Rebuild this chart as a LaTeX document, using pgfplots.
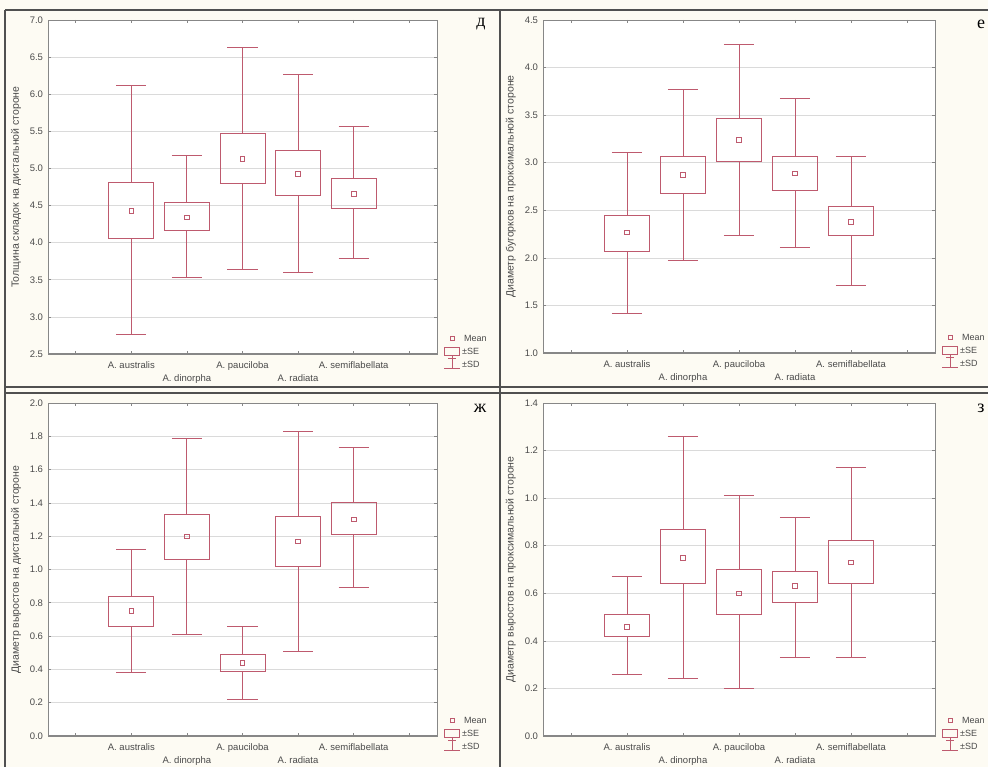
\documentclass[border=0pt]{standalone}
\usepackage{fontspec}
\setmainfont{Liberation Sans}
\newfontfamily\serifcyr{Liberation Serif}
\usepackage{pgfplots}
\pgfplotsset{compat=1.18}
\usepgfplotslibrary{statistics}
\definecolor{boxc}{RGB}{190,90,110}
\definecolor{bgc}{RGB}{253,251,243}
\definecolor{framec}{RGB}{80,80,80}
\definecolor{axc}{RGB}{135,135,135}
\definecolor{gridc}{RGB}{218,218,218}
\definecolor{txtc}{RGB}{75,75,75}

\pgfplotsset{
 panel/.style={
  scale only axis, anchor=south west, clip=false,
  xmin=-0.5, xmax=6.5, xtick={0,...,6},
  xticklabels={{},{A. australis},{\strut\\A. dinorpha},{A. pauciloba},{\strut\\A. radiata},{A. semiflabellata},{}},
  xticklabel style={align=center, font=\fontsize{9.5}{12}\selectfont, text=txtc, yshift=-4pt},
  yticklabel style={font=\fontsize{9.5}{10}\selectfont, text=txtc, xshift=-1.5pt,
     /pgf/number format/.cd, fixed, fixed zerofill, precision=1},
  /pgf/number format/assume math mode=true,
  ymajorgrids, grid style={gridc, line width=0.6pt},
  axis line style={axc, line width=0.8pt},
  tick style={axc, line width=0.6pt},
  major tick length=3pt,
  axis background/.style={fill=white},
  ylabel style={font=\fontsize{10.5}{12}\selectfont, text=txtc, anchor=center},
  boxplot/draw direction=y,
 },
 meanstyle/.style={boxc, only marks, mark=square, mark size=2.3pt, mark options={solid, line width=0.7pt}},
}
\newcommand\bx[5]{\addplot[boxc, line width=0.9pt, solid, boxplot prepared={draw position=#1, lower whisker=#2, lower quartile=#3, median=#3, upper quartile=#4, upper whisker=#5, box extend=0.81, whisker extend=0.54}] coordinates {};}
\newcommand\botline{\draw[axc, line width=1.6pt] (rel axis cs:0,0) -- (rel axis cs:1,0);}
\newcommand\leg[2]{%
\begin{scope}[shift={(#1pt,#2pt)}]
\draw[boxc, line width=0.7pt] (13pt,14pt) rectangle (17pt,18pt);
\node[anchor=west, font=\fontsize{9}{10}\selectfont, text=txtc, inner sep=0pt] at (27pt,16pt) {Mean};
\draw[boxc, line width=0.7pt] (7pt,-1pt) rectangle (22pt,7pt);
\node[anchor=west, font=\fontsize{9}{10}\selectfont, text=txtc, inner sep=0pt] at (25pt,3pt) {±SE};
\draw[boxc, line width=0.7pt] (15pt,-2pt) -- (15pt,-14pt) (7pt,-14pt) -- (23pt,-14pt) (11pt,-4pt) -- (19pt,-4pt);
\node[anchor=west, font=\fontsize{9}{10}\selectfont, text=txtc, inner sep=0pt] at (25pt,-10pt) {±SD};
\end{scope}}

\begin{document}
\begin{tikzpicture}
\useasboundingbox (0pt,0pt) rectangle (988pt,767pt);
\clip (0pt,0pt) rectangle (988pt,767pt);
\fill[bgc] (0pt,0pt) rectangle (988pt,767pt);
\draw[framec, line width=1.3pt] (5pt,757pt) -- (990pt,757pt);
\draw[framec, line width=1.3pt] (5pt,-2pt) -- (5pt,757pt);
\draw[framec, line width=1.3pt] (500pt,-2pt) -- (500pt,757pt);
\draw[framec, line width=1.3pt] (5pt,380pt) -- (990pt,380pt);
\draw[framec, line width=1.3pt] (5pt,374pt) -- (990pt,374pt);

% panel д
\begin{axis}[panel, at={(48pt,413pt)}, width=389pt, height=334pt,
  ymin=2.5, ymax=7, ytick distance=0.5,
  ylabel={Толщина складок на дистальной стороне},
  ylabel style={at={(axis description cs:-0.082,0.5)}}]
\bx{1}{2.76}{4.05}{4.81}{6.12}
\bx{2}{3.53}{4.16}{4.54}{5.18}
\bx{3}{3.64}{4.80}{5.47}{6.63}
\bx{4}{3.60}{4.63}{5.24}{6.27}
\bx{5}{3.79}{4.46}{4.86}{5.56}
\addplot[meanstyle] coordinates {(1,4.43) (2,4.34) (3,5.13) (4,4.93) (5,4.66)};
\botline
\end{axis}
\leg{437}{413}
\node[font=\serifcyr\fontsize{18}{18}\selectfont] at (481pt,743pt) {д};

% panel е
\begin{axis}[panel, at={(543pt,414pt)}, width=392pt, height=333pt,
  ymin=1, ymax=4.5, ytick distance=0.5,
  ylabel={Диаметр бугорков на проксимальной стороне},
  ylabel style={at={(axis description cs:-0.082,0.5)}}]
\bx{1}{1.42}{2.07}{2.45}{3.11}
\bx{2}{1.97}{2.68}{3.07}{3.77}
\bx{3}{2.24}{3.01}{3.47}{4.24}
\bx{4}{2.11}{2.71}{3.07}{3.68}
\bx{5}{1.71}{2.24}{2.54}{3.07}
\addplot[meanstyle] coordinates {(1,2.27) (2,2.87) (3,3.24) (4,2.89) (5,2.38)};
\botline
\end{axis}
\leg{935}{414}
\node[font=\serifcyr\fontsize{18}{18}\selectfont] at (981pt,743pt) {е};

% panel ж
\begin{axis}[panel, at={(48pt,31pt)}, width=389pt, height=333pt,
  ymin=0, ymax=2, ytick distance=0.2,
  ylabel={Диаметр выростов на дистальной стороне},
  ylabel style={at={(axis description cs:-0.082,0.5)}}]
\bx{1}{0.38}{0.66}{0.84}{1.12}
\bx{2}{0.61}{1.06}{1.33}{1.79}
\bx{3}{0.22}{0.39}{0.49}{0.66}
\bx{4}{0.51}{1.02}{1.32}{1.83}
\bx{5}{0.89}{1.21}{1.40}{1.73}
\addplot[meanstyle] coordinates {(1,0.75) (2,1.20) (3,0.44) (4,1.17) (5,1.30)};
\botline
\end{axis}
\leg{437}{31}
\node[font=\serifcyr\fontsize{18}{18}\selectfont] at (480pt,359pt) {ж};

% panel з
\begin{axis}[panel, at={(543pt,31pt)}, width=392pt, height=333pt,
  ymin=0, ymax=1.4, ytick distance=0.2,
  ylabel={Диаметр выростов на проксимальной стороне},
  ylabel style={at={(axis description cs:-0.082,0.5)}}]
\bx{1}{0.26}{0.42}{0.51}{0.67}
\bx{2}{0.24}{0.64}{0.87}{1.26}
\bx{3}{0.20}{0.51}{0.70}{1.01}
\bx{4}{0.33}{0.56}{0.69}{0.92}
\bx{5}{0.33}{0.64}{0.82}{1.13}
\addplot[meanstyle] coordinates {(1,0.46) (2,0.75) (3,0.60) (4,0.63) (5,0.73)};
\botline
\end{axis}
\leg{935}{31}
\node[font=\serifcyr\fontsize{18}{18}\selectfont] at (981pt,359pt) {з};
\end{tikzpicture}
\end{document}
